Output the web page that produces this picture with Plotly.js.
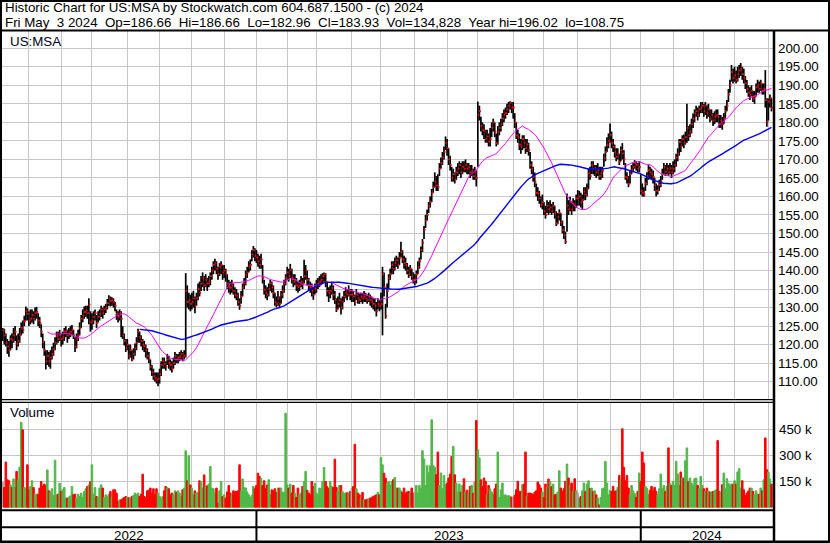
<!DOCTYPE html>
<html><head><meta charset="utf-8">
<script src="https://cdn.plot.ly/plotly-3.0.1.min.js"></script>
<style>html,body{margin:0;padding:0;background:#fff;} #chart{width:830px;height:543px;} #chart text.annotation-text{white-space:pre;}</style>
</head><body><div id="chart"></div>
<script>
// ---------------- DATA (daily bars, US:MSA, 2022-05-06 .. 2024-05-03) ----------------
const firstDay = '2022-05-06';
const lastDay = '2024-05-03';
const holidays = ['2022-05-30','2022-06-20','2022-07-04','2022-09-05','2022-11-24','2022-12-26',
  '2023-01-02','2023-01-16','2023-02-20','2023-04-07','2023-05-29','2023-06-19','2023-07-04','2023-09-04',
  '2023-11-23','2023-12-25','2024-01-01','2024-01-15','2024-02-19','2024-03-29'];

const close = [
 123.9,122.5,120.5,119.5,118.5,121.5,121.2,122.5,123.5,120.3,121,122.5,124.5,124,126.3,129,128.3,
 126.5,127,128,127,128.5,128.8,126.5,125.8,123.5,120.7,118.5,115.5,117,115.5,116.5,117.5,118.8,120.5,122.3,121.5,122.5,
 121.5,122,123.5,123.8,122.5,123,123.5,124,122.5,119.5,121.5,122.5,124.5,127,127.8,128.8,129.2,128.5,130.8,126,
 126.5,127.5,128.5,125.8,127.5,128.3,129.5,128.5,129.5,130,131.2,132.5,131.8,132,131.5,130.5,128.3,127.5,128.5,127,122.5,121,119,
 120,117,118.5,116,117.5,119,120.5,123.5,122,121,120,119.5,118.5,117,116,114,112.5,111.5,111,110.5,110.8,
 112,114.5,115.5,114.8,114,116,115,114.5,113.5,115,117,116,116.5,116.8,117.5,116.5,117,134.5,131.5,132,131,
 131.5,132.5,130.5,132.5,135,134,136.5,138,136,137.5,136.5,137,138.5,140,141.5,142,140.5,139,141,141.5,139.5,
 140,139,136.5,135.5,135.3,136,134.5,133.5,133.2,131.5,130.5,133,135.3,136.5,138.9,139.5,141.1,141.5,144.3,145.5,144,
 143.5,142.5,141.5,143,138,134.8,134,133.5,135,136.5,135.5,134,131.5,131,132.5,131,133.5,134.5,136.5,138,
 139.5,138.5,140.2,138,137,137.5,136,135.5,136,137,136.5,138.5,140,137.5,136,135.5,134.5,133.5,135,
 136,136.5,137,137.5,138.5,139,137,134.5,133.9,134.5,135.3,133.5,132.1,129.5,131,132,130,131.5,133,134,133.5,134.5,133.5,
 133.5,133,131.5,133.5,132.5,132,133,132.5,133,132.5,132,133,132,131.5,131,130.5,129,131,130.5,
 131,139,135.5,127.7,134.5,137.9,139,141.5,140.5,142,142.8,141.5,143.5,145,143,142,141.5,140,139,140.5,138.5,137.5,
 137.5,139,141,142.5,145.5,147.5,151,153.5,155,157.5,158.5,161,162.5,164,163,162.5,167.5,169,170.5,172,174.5,
 173,170,168.5,165,166,164.5,166.5,167.5,168.5,166.5,168,167.5,168.5,167.5,168,166.5,167,165.5,166.5,165,
 182,183,179,178,177.6,175.5,176.2,174.8,175.5,178.5,180,177.5,174.4,177.5,178.5,179.5,181,182.1,182.5,183.5,184.5,185.3,184,
 184,180,176.5,176,174,173.5,175.5,174.5,173,174,172.5,168.5,167.5,165.3,164,161,160.8,159.5,157.7,158.5,
 156,155,157.5,156.5,157,156,157.5,155.5,152.7,154.5,155.5,153,150.9,149.5,147.8,157.5,156.5,158.5,156.5,158,157.5,159.5,
 159.5,160,158.5,159,161.3,160.5,162,166.2,165.5,168.5,167.5,167.6,166.5,167.1,165.5,166.2,167,170.3,172,173.9,175,
 176.6,174.5,173.4,172,170.7,171.5,169.4,172.5,171.6,170,165.3,165,163.4,166,167.1,168,169,168.5,167.5,168,
 161.5,161,160.5,163.5,165.5,167.1,166.5,166,165.3,163,161.5,161.7,163.1,164,166,168,166.7,167.5,166.5,167.6,166.5,
 167.5,168.5,170.5,171.5,174.7,173.5,175.5,174.5,176,178.5,176.5,177.5,179.5,181,182.4,183,182,183.5,184,184.5,
 183,184.5,182.4,183.5,181,182,180.5,181.5,182,181.5,179.5,180.5,179.5,181,183,184.5,187.5,190,193.6,192,
 192.7,191.5,193,194,194.5,193,192,190.5,189,188,187.5,188.5,186.4,187,189.5,190,189.1,190.5,188.5,189,186,180.2,
 185.6,186.5,183.93
];
const high = [
 124.5,124.3,123,121.5,121,122.5,123,124.5,125,122.5,123,124.5,126,126.5,127.8,130.3,129.8,
 129,129.5,129.5,129,130,130.2,128.5,127.5,125.5,123,121,118.5,118.5,118,118.5,119.5,120.5,122,123.5,123.5,124,
 123,123.5,124.5,125,124,124.5,125,125.3,124,122,123,124,126,128,129.5,130.3,130.5,130.5,132.5,129,
 128.5,129,129.5,128,129,129.5,130.5,130,130.5,131,132.3,133.3,133,132.8,132.5,131.5,129.5,129,129.5,129,125,123,121.5,
 121.5,120,120,118.5,119,120.3,122,124.3,123.5,122.5,121.5,121,120,119,118,116,114.5,113.5,112.5,112.5,112.5,
 113.5,115.5,116.5,116.5,115.5,117.5,117,116,115.5,116.5,118,117.5,117.5,118,118.5,118,118.5,139.3,136,134,133.5,
 134,134.5,133,134,136.5,137,138.5,139.5,138.5,139,138,138.5,139.5,141,142.5,143.2,142.5,141,142,142.5,141.5,
 141.5,140.5,139,137.5,137,137.5,136.5,135.5,135,134,132.5,134.5,136.5,138,140,141,142.5,143,145.5,146.6,146,
 145.5,144.5,144,144.5,141.5,137.5,136,135.5,136.5,137.5,137,136,134,133,134.5,133,134.5,136,137.5,139,
 141,140.5,141.8,140.5,139,139,138,137,137.5,138.5,138,142.9,141.5,140,138,137,136.5,135.5,136.5,
 137.5,138,138.5,139,139.3,139.5,139.3,137,135.5,136,137,136,134.5,132.5,133,134,132.5,133,134.5,135.5,135,136,135,
 135,134.5,133.5,135,134,133.8,134,134,134.5,134,133.5,134,133.5,133,132.5,132.5,131.5,132.5,132,
 134,141,139.5,131,136.5,139,140.5,142.5,142.5,143.5,144,143.5,145,147.8,145.5,144,143.5,142,141,141.5,140.5,139.5,
 139,140,142.5,143.5,146.5,148.5,152,155,156.5,158.5,160,162,164,166.5,165.5,166,169,170.5,172,173.5,176.2,
 175.5,173,171,168,167.5,166.5,168,169,169.5,169,169.5,169.5,170,169,169,168.5,168.5,167.5,168,167,
 185.6,184.5,181.5,180,179.5,178,178,177,178.5,180,181,180,177,179,180,181,182.5,183.5,184,185,185.5,185.7,185.5,
 185.5,182.5,180,178,177,175.5,176.5,176.5,175.5,175.5,174.5,172,169.5,168,166.5,163.5,162.5,161.5,160,160.5,
 158.5,157.5,159,158.5,159,158,158.5,157.5,156,155.5,156.5,155.5,153.5,152,150.5,160.8,159,159.9,158.5,159.5,159,160.5,
 161.7,161.5,161,160.5,162.5,162.5,163.5,167.5,168,169.5,169.5,168.5,168.5,169,168,168,168,171.5,173.5,176,177,
 179.7,177.5,175.5,174,173,173,171.5,173.5,174.4,172.5,169,166.5,165.5,167,168.5,169,169.8,169.5,169,169.5,
 166,163.5,162.5,165,166.5,168.5,168,167.5,167,165,163.5,163,164.5,165.5,167.5,169,168.5,169,168.5,169,168.5,
 169.5,170,171.5,173,175.5,175.5,176.5,176.7,177.5,185,179,179.5,181,182.4,183.5,184.5,184,184.5,185.5,185.5,
 185,185.5,184.6,185,183.5,183.5,182.5,183,183.5,183.5,182,182,181.5,182.5,184.5,186,189,191.5,195.5,194.5,
 195,194,195,195.5,196.02,195,194.5,192.5,191.4,190,189.5,190,188.5,188.5,190.5,191.5,191,191.5,190.5,190.5,194.1,186.5,
 186.5,187.5,186.66
];
const low = [
 121,120,119.5,117.5,116.7,118.5,119,120.5,121,118.5,119.5,120.5,122.5,123,125,126.5,126.5,
 125,125.5,126,125.5,126.5,127,125,124.5,122,119,117,113.3,114.5,114,113.5,116,117,118.5,120,120.5,121,
 119.5,120,121,122,120.5,121.5,122,122.5,121.5,118,119,121,122.5,124.5,126,127,127.5,127,125.5,123.5,
 124,125.5,126.5,124.5,126,126.5,127.5,127,128,128.5,129.5,130.5,130.3,130.5,130,129,126.7,126,126.5,122,121.5,119.8,118,
 118.5,116,116.5,115.5,116,117,118.5,120.5,120.5,119.5,118.5,118,116.5,116,115,113,111.5,110.5,110,109.5,108.75,
 109.5,111.5,113.5,113.5,113,114.5,113.5,113,112.5,113.5,114.5,115,115,115.5,116,115.5,116,116.5,130,129.5,129,
 129.5,130,128.5,130.5,132,133,134.5,135.5,134.5,135.5,134.5,135.5,136,137.5,139,140,139,137.5,138.5,139,137.5,
 138,137,135,134,133.5,134,133.5,132.5,132,130.5,129.4,131,133,135,136,138,139.5,140,142.5,143.5,142.5,
 142,141,140.5,140.5,136.5,133.5,132.5,132,133,134.5,134,132.5,130.5,130,130.5,129.8,131,132.5,134,136,
 137.5,137,138,136.5,135.5,136,134.5,134,134.5,135.5,135,136.5,137.5,136,134.5,134,133,132.1,133.5,
 134,135,135.5,136,136.5,137,135.5,133,131.5,132.5,133.5,132,131,128.8,129.5,130,128.1,129.5,131.5,132.5,132,133,132,
 131.5,131.5,130.5,132,131,131,131.5,131,131.5,131.5,131,131.5,130.5,130,129.5,129,127.6,129.5,129,
 129.5,122.5,133,127,130,135,137.5,139,139,140,141,140.5,141.5,143.5,142,140.5,140,139,138,138.5,137.5,136.5,
 136,136.5,139,140.5,143,145,148.5,151.5,153.5,155.5,157,158.5,161,162.5,161.5,161.5,165.5,167.5,168.5,170,172.5,
 171,168.5,167,164,164,163.5,164.5,165.5,166,165,166,166.5,166.5,166,166,165,165.5,164.5,164.5,162.7,
 168,180.5,177.5,176.5,175.5,174.5,174.5,173.5,173.5,176,177.5,176,173.5,174,176.5,177.5,179,180,181,182,182.5,183.5,182.5,
 181,178.5,175.5,174.5,172.5,171.5,172.5,173,171.5,172,171,167.5,166,164,162.5,160,158.8,158,157,156.5,
 155,154,155.5,155,155.5,155,155.5,154,152,152.5,153.5,152,150,148.5,147.2,150.5,155,156,155,156,156,157,
 157.5,157.5,157,156.5,159,159,160,162,164.5,166,166,165.5,165,165.5,164.5,164.5,165,168,169.5,172,173,
 174.5,173,172,170.5,169.5,170,168.5,169.5,170,168.5,164.5,163.5,162.5,163.5,166,166.5,167.5,167,166.5,166.5,
 160.5,160,159.9,161.5,163,164.5,165,164.5,163.5,161.5,160,160.5,161.5,162.5,164.5,166,165.5,166,165.5,166,165,
 166,166.5,168,169.5,171,172,173.5,173,174,174.5,175,176,177,178.5,180,181.5,180.5,181.5,182.5,182.5,
 181.5,182,181,181.5,180,180.5,179,179.5,180,180,178.5,178.5,178,179.5,181,183,185.5,188,191,190.5,
 191,190.5,191,192,192.5,191.5,190.5,189,188,186.9,186,187,185.5,185,187,188,188,188.5,187.5,187.5,184,178.8,
 180.5,184,182.96
];
// volume in thousands of shares
const volumeK = [
 146,115,262,160,154,130,115,165,115,208,160,233,492,448,115,112,246,
 102,120,154,115,77,77,77,112,150,121,135,127,217,96,90,108,69,273,73,77,140,
 92,102,115,54,54,60,67,121,73,77,54,77,63,83,58,92,108,121,130,150,
 246,77,115,63,58,112,131,112,58,73,63,75,92,58,102,102,83,35,44,44,50,58,63,
 58,56,54,63,69,83,73,83,63,77,192,63,58,96,100,112,83,108,73,108,83,
 63,54,63,96,121,115,108,73,83,73,96,88,96,83,63,102,112,327,154,298,130,
 112,73,96,83,88,154,150,112,188,121,125,135,237,112,108,83,112,25,96,150,63,
 73,54,90,127,83,73,96,92,92,96,246,92,165,115,112,90,73,58,69,121,108,
 127,198,179,169,127,154,108,130,160,73,102,96,108,88,112,112,112,88,88,544,
 130,112,135,83,127,83,58,112,73,83,121,150,208,100,83,73,150,121,140,
 83,73,112,108,150,231,150,120,108,150,121,115,279,115,92,127,127,92,83,83,85,83,92,
 112,121,365,108,83,73,58,87,44,44,48,50,54,58,63,69,73,88,73,
 288,246,198,169,140,150,127,150,160,173,112,112,112,96,88,112,83,90,92,83,112,83,
 88,127,83,127,112,328,280,127,241,200,241,506,241,232,189,320,127,199,108,185,131,
 141,170,193,295,353,189,141,89,135,89,127,166,89,100,83,122,127,83,147,502,
 334,286,160,122,170,151,73,127,108,90,73,108,135,320,58,102,141,69,73,64,69,64,60,
 58,69,102,151,93,93,131,135,320,64,83,83,80,73,89,96,147,131,112,89,
 58,135,116,164,151,120,135,73,77,89,212,112,93,108,151,251,170,130,141,93,166,96,
 83,54,64,96,141,93,135,154,110,112,93,96,73,54,15,58,108,112,266,141,73,
 100,93,122,93,96,116,185,160,454,232,154,185,112,73,127,96,80,58,93,199,
 151,320,257,122,112,73,100,122,96,116,93,73,108,193,108,127,93,122,344,140,127,
 151,127,266,193,127,205,170,170,270,344,150,170,141,127,166,170,127,108,180,127,
 108,93,112,95,89,89,93,96,102,386,93,89,131,199,108,166,140,127,135,135,
 154,135,205,224,112,154,102,69,83,95,112,112,93,73,96,77,77,112,96,160,401,218,
 205,164,134.828
];
const maFastLen = 30, maSlowLen = 90;
const priceTicks = [110,115,120,125,130,135,140,145,150,155,160,165,170,175,180,185,190,195,200];
const volTicks = [150,300,450];
const volTickText = ['150 k','300 k','450 k'];
const headerLine1 = 'Historic Chart for US:MSA by Stockwatch.com 604.687.1500 - (c) 2024';
const headerLine2 = 'Fri May  3 2024  Op=186.66  Hi=186.66  Lo=182.96  Cl=183.93  Vol=134,828  Year hi=196.02  lo=108.75';

// ---------------- BUILD ----------------
const dates = [];
{
  let d = new Date(firstDay + 'T00:00:00Z');
  const end = new Date(lastDay + 'T00:00:00Z');
  while (d <= end) {
    const s = d.toISOString().slice(0, 10), w = d.getUTCDay();
    if (w !== 0 && w !== 6 && !holidays.includes(s)) dates.push(s);
    d.setUTCDate(d.getUTCDate() + 1);
  }
}
const n = Math.min(dates.length, close.length, high.length, low.length, volumeK.length);
if (new Set([dates.length, close.length, high.length, low.length, volumeK.length]).size !== 1)
  console.error('length mismatch', dates.length, close.length, high.length, low.length, volumeK.length);
const idx = [];
for (let i = 0; i < n; i++) idx.push(i);
const C = close.slice(0, n), H = high.slice(0, n), L = low.slice(0, n), V = volumeK.slice(0, n);

function sma(arr, p) {
  const out = [];
  let s = 0;
  for (let i = 0; i < arr.length; i++) {
    s += arr[i];
    if (i >= p) s -= arr[i - p];
    out.push(i >= p - 1 ? s / p : null);
  }
  return out;
}
const maFast = sma(C, maFastLen), maSlow = sma(C, maSlowLen);

const monthStarts = [], yearStarts = [];
for (let i = 1; i < n; i++) {
  if (dates[i].slice(5, 7) !== dates[i - 1].slice(5, 7)) monthStarts.push(i);
  if (dates[i].slice(0, 4) !== dates[i - 1].slice(0, 4)) yearStarts.push(i);
}
const GREEN = '#50b848', RED = '#ff0000', GRAY = '#a8a8a8';
const volColors = V.map((v, i) => i === 0 ? GRAY : (C[i] > C[i - 1] ? GREEN : (C[i] < C[i - 1] ? RED : GRAY)));

const W = 830, Ht = 543;
const px = x => x / W, py = y => 1 - y / Ht;
const FONT = 'Arial, "Liberation Sans", sans-serif';
const FS = 13.33;

const traces = [
  // high-low bars (black)
  { type: 'scatter', mode: 'markers', x: idx, y: C, xaxis: 'x', yaxis: 'y',
    marker: { color: 'rgba(0,0,0,0)', size: 1 },
    error_y: { type: 'data', symmetric: false,
      array: H.map((h, i) => h - C[i]), arrayminus: L.map((l, i) => C[i] - l),
      color: '#000000', thickness: 1.7, width: 0 }, hoverinfo: 'skip' },
  // close tick (red, on the right side of each bar)
  { type: 'scatter', mode: 'markers', x: idx.map(i => i + 0.45), y: C, xaxis: 'x', yaxis: 'y',
    marker: { color: RED, size: 1.8, symbol: 'square', line: { width: 0 } }, hoverinfo: 'skip' },
  { type: 'scatter', mode: 'lines', x: idx, y: maFast, xaxis: 'x', yaxis: 'y',
    line: { color: '#ff00ff', width: 1 }, connectgaps: false, hoverinfo: 'skip' },
  { type: 'scatter', mode: 'lines', x: idx, y: maSlow, xaxis: 'x', yaxis: 'y',
    line: { color: '#0000ff', width: 1.4 }, connectgaps: false, hoverinfo: 'skip' },
  { type: 'bar', x: idx, y: V, xaxis: 'x2', yaxis: 'y2',
    marker: { color: volColors, line: { color: volColors, width: 1 } }, hoverinfo: 'skip' }
];

const xCommon = { domain: [px(2), px(773)], range: [-0.5, n], tickvals: monthStarts,
  showticklabels: false, ticks: '', showgrid: true, gridcolor: '#c6c6c6', gridwidth: 1,
  zeroline: false, showline: false, fixedrange: true };

const yearLabels = [];
{
  const bounds = [-0.5].concat(yearStarts).concat([n - 0.5]);
  for (let k = 0; k < bounds.length - 1; k++) {
    const startI = k === 0 ? 0 : yearStarts[k - 1];
    yearLabels.push({ text: dates[startI].slice(0, 4), x: (bounds[k] + bounds[k + 1]) / 2 });
  }
}

const lineShape = (x0, y0, x1, y1, w, xref) => ({ type: 'line', xref: xref || 'paper', yref: 'paper',
  x0: x0, x1: x1, y0: y0, y1: y1, line: { color: '#000', width: w }, layer: 'above' });

const shapes = [
  lineShape(px(1), py(0), px(1), py(543), 2),
  lineShape(px(829), py(0), px(829), py(543), 2),
  lineShape(0, py(1), 1, py(1), 2),
  lineShape(0, py(30.5), 1, py(30.5), 2),
  lineShape(px(774), py(30), px(774), py(543), 2.5),
  lineShape(0, py(399.6), px(774), py(399.6), 1.3),
  lineShape(0, py(402.4), px(774), py(402.4), 1.3),
  lineShape(0, py(510.3), px(774), py(510.3), 2),
  lineShape(0, py(527.3), px(774), py(527.3), 2),
  lineShape(0, py(541.8), 1, py(541.8), 2.5)
];
yearStarts.forEach(i => shapes.push(lineShape(i, py(510.3), i, py(541.5), 2, 'x')));

const annotations = [
  { text: headerLine1, xref: 'paper', yref: 'paper', x: px(3), y: py(8), xanchor: 'left', yanchor: 'middle', showarrow: false, font: { size: FS, color: '#000', family: FONT } },
  { text: headerLine2, xref: 'paper', yref: 'paper', x: px(3), y: py(22), xanchor: 'left', yanchor: 'middle', showarrow: false, font: { size: FS, color: '#000', family: FONT } },
  { text: 'US:MSA', xref: 'paper', yref: 'paper', x: px(8), y: py(41.5), xanchor: 'left', yanchor: 'middle', showarrow: false, font: { size: FS, color: '#000020', family: FONT } },
  { text: 'Volume', xref: 'paper', yref: 'paper', x: px(8), y: py(413), xanchor: 'left', yanchor: 'middle', showarrow: false, font: { size: FS, color: '#000020', family: FONT } }
].concat(yearLabels.map(l => ({ text: l.text, xref: 'x', yref: 'paper', x: l.x, y: py(535), xanchor: 'center', yanchor: 'middle', showarrow: false, font: { size: FS, color: '#000', family: FONT } })));

const layout = {
  width: W, height: Ht, margin: { l: 0, r: 0, t: 0, b: 0, pad: 0 },
  paper_bgcolor: '#ffffff', plot_bgcolor: '#ffffff', showlegend: false,
  font: { family: FONT, size: FS, color: '#000' },
  bargap: 0,
  xaxis: Object.assign({}, xCommon, { anchor: 'y' }),
  xaxis2: Object.assign({}, xCommon, { anchor: 'y2', matches: 'x' }),
  yaxis: { domain: [py(400), py(31)], range: [105.05, 204.66], side: 'right', anchor: 'x',
    tickvals: priceTicks, tickformat: '.2f', ticks: '', ticklabelstandoff: 4,
    showgrid: true, gridcolor: '#c6c6c6', gridwidth: 1, zeroline: false, showline: false,
    tickfont: { size: FS, color: '#000', family: FONT }, fixedrange: true },
  yaxis2: { domain: [py(507.5), py(403)], range: [0, 603], side: 'right', anchor: 'x2',
    tickvals: volTicks, ticktext: volTickText, ticks: '', ticklabelstandoff: 5,
    showgrid: true, gridcolor: '#c6c6c6', gridwidth: 1, zeroline: false, showline: false,
    tickfont: { size: FS, color: '#000', family: FONT }, fixedrange: true },
  shapes: shapes,
  annotations: annotations
};

Plotly.newPlot('chart', traces, layout, { staticPlot: true, displayModeBar: false });
</script>
</body></html>
